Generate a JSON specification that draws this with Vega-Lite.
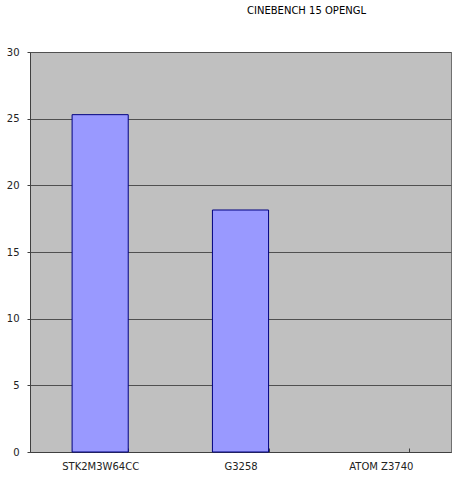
{
  "$schema": "https://vega.github.io/schema/vega-lite/v6.json",
  "autosize": "none",
  "width": 421,
  "height": 400,
  "padding": {"left": 30, "top": 52, "right": 11, "bottom": 28},
  "background": "white",
  "title": {
    "text": "CINEBENCH 15  OPENGL",
    "fontSize": 10,
    "font": "DejaVu Sans",
    "fontWeight": "normal",
    "color": "#000000",
    "anchor": "middle",
    "dx": 66,
    "offset": 31
  },
  "config": {
    "view": {"fill": "#c0c0c0", "stroke": "#707070", "strokeWidth": 1}
  },
  "data": {
    "values": [
      {"cpu": "STK2M3W64CC", "score": 25.3},
      {"cpu": "G3258", "score": 18.15},
      {"cpu": "ATOM Z3740", "score": 0}
    ]
  },
  "mark": {"type": "bar", "color": "#9999ff", "stroke": "#000080", "strokeWidth": 1},
  "encoding": {
    "x": {
      "field": "cpu",
      "type": "nominal",
      "sort": null,
      "scale": {"paddingInner": 0.6, "paddingOuter": 0.3},
      "axis": {
        "title": null,
        "labelAngle": 0,
        "labelFont": "DejaVu Sans",
        "labelFontSize": 10,
        "labelColor": "#222222",
        "labelPadding": 13,
        "tickBand": "extent",
        "tickSize": -4,
        "tickColor": "#404040",
        "domainColor": "#404040",
        "grid": false
      }
    },
    "y": {
      "field": "score",
      "type": "quantitative",
      "scale": {"domain": [0, 30]},
      "axis": {
        "title": null,
        "values": [0, 5, 10, 15, 20, 25, 30],
        "labelFont": "DejaVu Sans",
        "labelFontSize": 10,
        "labelColor": "#222222",
        "labelPadding": 8,
        "tickSize": 3,
        "tickColor": "#404040",
        "domainColor": "#404040",
        "grid": true,
        "gridColor": "#505050",
        "gridOpacity": 1,
        "gridWidth": 1
      }
    },
    "strokeOpacity": {
      "condition": {"test": "datum.score > 0", "value": 1},
      "value": 0
    }
  }
}
